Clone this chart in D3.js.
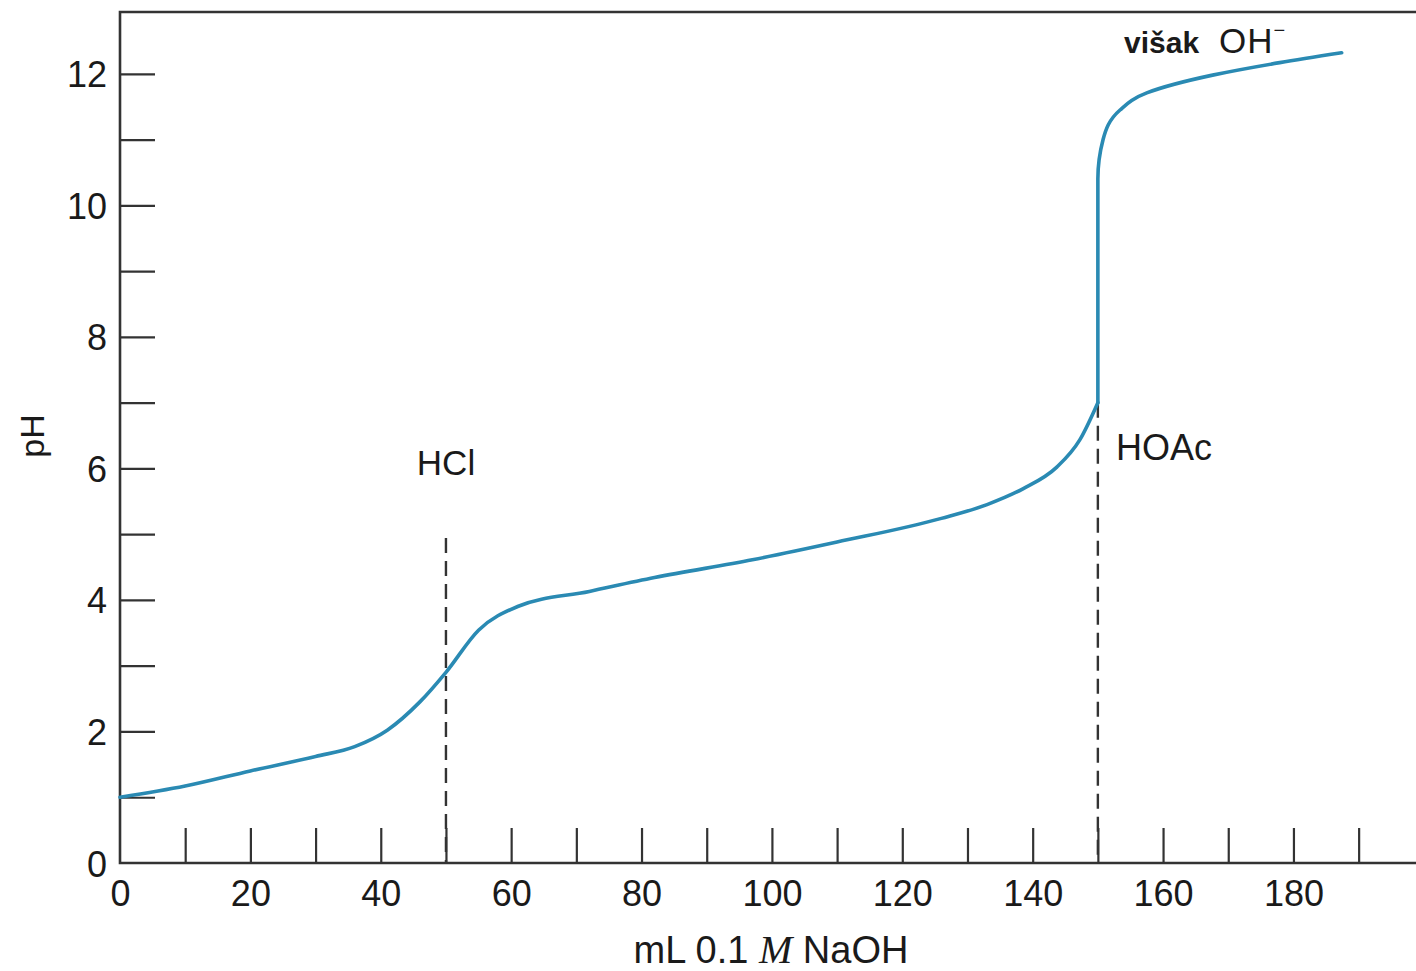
<!DOCTYPE html>
<html>
<head>
<meta charset="utf-8">
<script src="https://cdn.jsdelivr.net/npm/d3@7"></script>
<style>
  body { margin: 0; background: #fff; }
  svg { display: block; font-family: "Liberation Sans", Arial, sans-serif; }
</style>
</head>
<body>
<script>
// titration curve
let volume = [0, 10, 20, 30, 36, 41, 46, 50, 55, 61, 72, 82, 97, 110, 126, 133, 138.5, 143.7, 147.2, 150, 150, 150.8, 153.4, 157.5, 167.6, 177.9, 187.4];
let pH     = [1.0, 1.17, 1.4, 1.62, 1.77, 2.02, 2.45, 2.9, 3.54, 3.9, 4.13, 4.34, 4.61, 4.88, 5.24, 5.45, 5.69, 6.02, 6.43, 7.0, 10.4, 11.0, 11.45, 11.71, 11.98, 12.17, 12.32];

let xTicks = d3.range(10, 200, 10),
    xLabels = [0, 20, 40, 60, 80, 100, 120, 140, 160, 180],
    yTicks = d3.range(1, 13),
    yLabels = [0, 2, 4, 6, 8, 10, 12];

// equivalence points: [volume, top of dashed line in pH]
let eqLines = [[50, 4.94], [150, 7.0]];

let svgWidth = 1416,
    svgHeight = 971,
    margin = { top: 12, left: 120, bottom: 863 };

let svg = d3.select("body").append("svg")
    .attr("width", svgWidth)
    .attr("height", svgHeight);

let x = d3.scaleLinear().domain([0, 198.8]).range([margin.left, svgWidth]);
let y = d3.scaleLinear().domain([0, 12.94]).range([margin.bottom, margin.top]);

let axisColor = "#333";

// inward ticks (no labels)
svg.append("g")
    .attr("transform", "translate(0," + margin.bottom + ")")
    .call(d3.axisBottom(x).tickValues(xTicks).tickSize(-35).tickFormat(""))
    .call(g => g.select(".domain").remove())
    .call(g => g.selectAll("line").attr("stroke", axisColor).attr("stroke-width", 2.2));

svg.append("g")
    .attr("transform", "translate(" + margin.left + ",0)")
    .call(d3.axisLeft(y).tickValues(yTicks).tickSize(-35).tickFormat(""))
    .call(g => g.select(".domain").remove())
    .call(g => g.selectAll("line").attr("stroke", axisColor).attr("stroke-width", 2.2));

// labels
svg.append("g")
    .attr("transform", "translate(0," + margin.bottom + ")")
    .call(d3.axisBottom(x).tickValues(xLabels).tickSize(0).tickPadding(0))
    .call(g => g.select(".domain").remove())
    .call(g => g.selectAll("text")
        .attr("y", 43).attr("dy", null)
        .attr("fill", "#1a1a1a")
        .style("font-size", "36px")
        .style("font-family", "Liberation Sans, Arial, sans-serif"));

svg.append("g")
    .attr("transform", "translate(" + margin.left + ",0)")
    .call(d3.axisLeft(y).tickValues(yLabels).tickSize(0).tickPadding(13))
    .call(g => g.select(".domain").remove())
    .call(g => g.selectAll("text")
        .attr("dy", null).attr("y", 13)
        .attr("fill", "#1a1a1a")
        .style("font-size", "36px")
        .style("font-family", "Liberation Sans, Arial, sans-serif"));

// frame: left, bottom, top
svg.append("path")
    .attr("d", "M" + svgWidth + "," + margin.top + "H" + margin.left + "V" + margin.bottom + "H" + svgWidth)
    .attr("fill", "none")
    .attr("stroke", axisColor)
    .attr("stroke-width", 2.6);

// dashed equivalence lines
svg.selectAll(".eq")
    .data(eqLines)
    .enter().append("line")
    .attr("class", "eq")
    .attr("x1", d => x(d[0])).attr("x2", d => x(d[0]))
    .attr("y1", d => y(d[1])).attr("y2", y(0))
    .attr("stroke", axisColor)
    .attr("stroke-width", 2.4)
    .attr("stroke-dasharray", "15,8");

// curve: buffer part is monotone in x, the jump and excess-base part in pH
let points = volume.map((v, i) => [v, pH[i]]);
let jump = pH.indexOf(7.0);
let lower = points.slice(0, jump + 1),
    upper = points.slice(jump);

let lineX = d3.line().x(d => x(d[0])).y(d => y(d[1])).curve(d3.curveMonotoneX);
let lineY = d3.line().x(d => x(d[0])).y(d => y(d[1])).curve(d3.curveMonotoneY);

svg.selectAll(".curve")
    .data([lineX(lower), lineY(upper)])
    .enter().append("path")
    .attr("class", "curve")
    .attr("d", d => d)
    .attr("fill", "none")
    .attr("stroke", "#2a8ab3")
    .attr("stroke-width", 3.6)
    .attr("stroke-linecap", "round");

// annotations
svg.append("text")
    .attr("x", 446).attr("y", 475)
    .attr("text-anchor", "middle")
    .style("font-size", "35px")
    .attr("fill", "#1a1a1a")
    .text("HCl");

svg.append("text")
    .attr("x", 1116).attr("y", 460)
    .style("font-size", "36px")
    .attr("fill", "#1a1a1a")
    .text("HOAc");

let ex = svg.append("text")
    .attr("x", 1124).attr("y", 53)
    .attr("fill", "#1a1a1a");
ex.append("tspan")
    .style("font-size", "30px")
    .style("font-weight", "bold")
    .text("višak");
ex.append("tspan")
    .attr("dx", 20)
    .style("font-size", "35px")
    .style("letter-spacing", "1px")
    .text("OH");
ex.append("tspan")
    .attr("dy", -16)
    .style("font-size", "20px")
    .text("−");

// axis titles
svg.append("text")
    .attr("transform", "translate(44,436) rotate(-90)")
    .attr("text-anchor", "middle")
    .style("font-size", "34px")
    .attr("fill", "#1a1a1a")
    .text("pH");

let xt = svg.append("text")
    .attr("x", 771).attr("y", 963)
    .attr("text-anchor", "middle")
    .style("font-size", "38px")
    .attr("fill", "#1a1a1a");
xt.append("tspan").text("mL 0.1 ");
xt.append("tspan")
    .style("font-family", "Liberation Serif, Times New Roman, serif")
    .style("font-style", "italic")
    .style("font-size", "40px")
    .text("M");
xt.append("tspan").text(" NaOH");
</script>
</body>
</html>
